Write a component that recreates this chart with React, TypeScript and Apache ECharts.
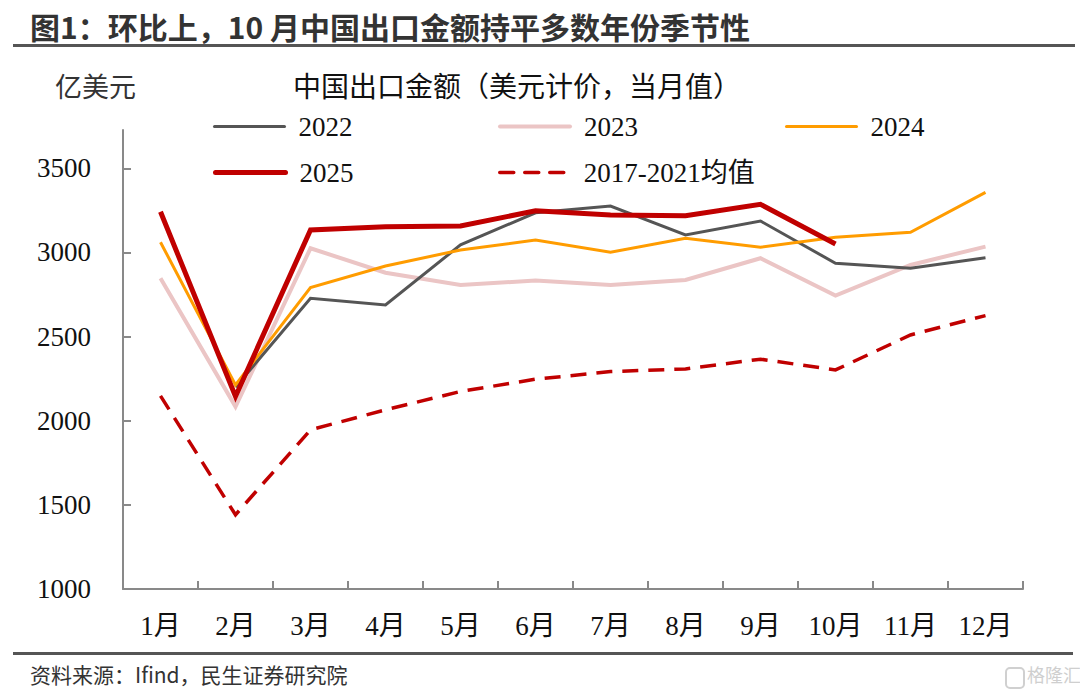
import React, { useEffect, useRef } from "react";
import * as echarts from "echarts";

const months = ["1月", "2月", "3月", "4月", "5月", "6月", "7月", "8月", "9月", "10月", "11月", "12月"];
const yTicks = [1000, 1500, 2000, 2500, 3000, 3500];
const v2022 = [null, 2200, 2728, 2688, 3045, 3236, 3276, 3104, 3187, 2936, 2906, 2969];
const v2023 = [2847, 2084, 3025, 2880, 2807, 2833, 2807, 2837, 2966, 2744, 2926, 3035];
const v2024 = [3061, 2213, 2791, 2920, 3015, 3074, 3001, 3084, 3031, 3090, 3120, 3357];
const v2025 = [3242, 2144, 3134, 3153, 3157, 3248, 3223, 3219, 3286, 3050, null, null];
const vAvg = [2148, 1441, 1946, 2065, 2174, 2247, 2292, 2308, 2366, 2302, 2510, 2625];

const names = ["2022", "2023", "2024", "2025", "2017-2021均值"];
const titleText = "图1：环比上，10 月中国出口金额持平多数年份季节性";
const legendTitle = "中国出口金额（美元计价，当月值）";
const unitText = "亿美元";
const sourceText = "资料来源：Ifind，民生证券研究院";

const SERIF = '"Times New Roman", "Liberation Serif", "Noto Sans CJK SC", serif';
const SANS = '"Noto Sans CJK SC", "Microsoft YaHei", sans-serif';

export default function App() {
  const ref = useRef<HTMLDivElement>(null);
  useEffect(() => {
    if (!ref.current) return;
    const chart = echarts.init(ref.current, undefined, { renderer: "svg" });
    const styles = [
      { color: "#555555", width: 3, type: "solid" as any },
      { color: "#EBC5C5", width: 4, type: "solid" as any },
      { color: "#FF9C00", width: 3, type: "solid" as any },
      { color: "#C00000", width: 5, type: "solid" as any },
      { color: "#C00000", width: 3.5, type: [14, 11] as any },
    ];
    const legendPos = [
      { left: 213, top: 113 },
      { left: 498, top: 113 },
      { left: 785, top: 113 },
      { left: 213, top: 159 },
      { left: 498, top: 159 },
    ];
    const legends = names.map((n, i) => ({
      data: [n],
      left: legendPos[i].left,
      top: legendPos[i].top,
      itemWidth: 70,
      itemHeight: 14,
      padding: 0,
      selectedMode: false,
      itemStyle: { color: "rgba(0,0,0,0)", borderWidth: 0, opacity: 0 },
      lineStyle: { color: styles[i].color, width: styles[i].width, type: styles[i].type, cap: "round" },
      textStyle: { fontFamily: SERIF, fontSize: 27, color: "#111", padding: [0, 0, 0, 9] },
    }));
    const mk = (i: number, data: any[], z: number, type: any) => ({
      name: names[i],
      type: "line",
      data,
      symbol: "none",
      showSymbol: false,
      z,
      lineStyle: { color: styles[i].color, width: styles[i].width, type, cap: "butt", join: "miter" },
      itemStyle: { color: styles[i].color },
    });
    chart.setOption({
      animation: false,
      backgroundColor: "#ffffff",
      grid: { left: 123, right: 57, top: 130, bottom: 105, containLabel: false },
      legend: legends,
      xAxis: {
        type: "category",
        data: months,
        boundaryGap: true,
        axisLine: { show: true, lineStyle: { color: "#898989", width: 2 } },
        axisTick: { show: true, inside: true, length: 8, lineStyle: { color: "#898989", width: 2 } },
        axisLabel: { fontFamily: SERIF, fontSize: 27, color: "#111", margin: 23 },
        splitLine: { show: false },
      },
      yAxis: {
        type: "value",
        min: 1000,
        max: 3728,
        interval: 500,
        axisLine: { show: true, lineStyle: { color: "#898989", width: 2 } },
        axisTick: { show: true, inside: true, length: 8, customValues: yTicks, lineStyle: { color: "#898989", width: 2 } },
        axisLabel: {
          fontFamily: SERIF,
          fontSize: 27,
          color: "#111",
          margin: 32,
          customValues: yTicks,
          formatter: (v: number) => String(v),
        },
        splitLine: { show: false },
      },
      series: [
        mk(0, v2022, 2, "solid"),
        mk(1, v2023, 1, "solid"),
        mk(2, v2024, 3, "solid"),
        mk(4, vAvg, 4, [16, 10]),
        mk(3, v2025, 5, "solid"),
      ],
      graphic: [
        {
          type: "text",
          left: 30,
          top: 11,
          style: { text: titleText, fontFamily: SANS, fontSize: 30, fontWeight: "bold", fill: "#333" },
        },
        {
          type: "rect",
          shape: { x: 13, y: 44, width: 1062, height: 3 },
          style: { fill: "#555" },
        },
        {
          type: "text",
          left: 55,
          top: 72,
          style: { text: unitText, fontFamily: SANS, fontSize: 27, fill: "#333" },
        },
        {
          type: "text",
          left: 293,
          top: 71,
          style: { text: legendTitle, fontFamily: SANS, fontSize: 28, fill: "#111" },
        },
        {
          type: "rect",
          shape: { x: 13, y: 652, width: 1060, height: 3 },
          style: { fill: "#555" },
        },
        {
          type: "text",
          left: 30,
          top: 663,
          style: { text: sourceText, fontFamily: SANS, fontSize: 21, fill: "#333" },
        },
        {
          type: "rect",
          shape: { x: 1006, y: 668, width: 18, height: 20, r: 4 },
          style: { fill: "none", stroke: "#d0d0d0", lineWidth: 2 },
        },
        {
          type: "text",
          left: 1027,
          top: 665,
          style: { text: "格隆汇", fontFamily: SANS, fontSize: 18, fill: "#cfcfcf" },
        },
      ],
    });
    return () => chart.dispose();
  }, []);
  return (
    <div
      ref={ref}
      style={{ position: "fixed", left: 0, top: 0, width: 1080, height: 694, background: "#fff" }}
    />
  );
}
